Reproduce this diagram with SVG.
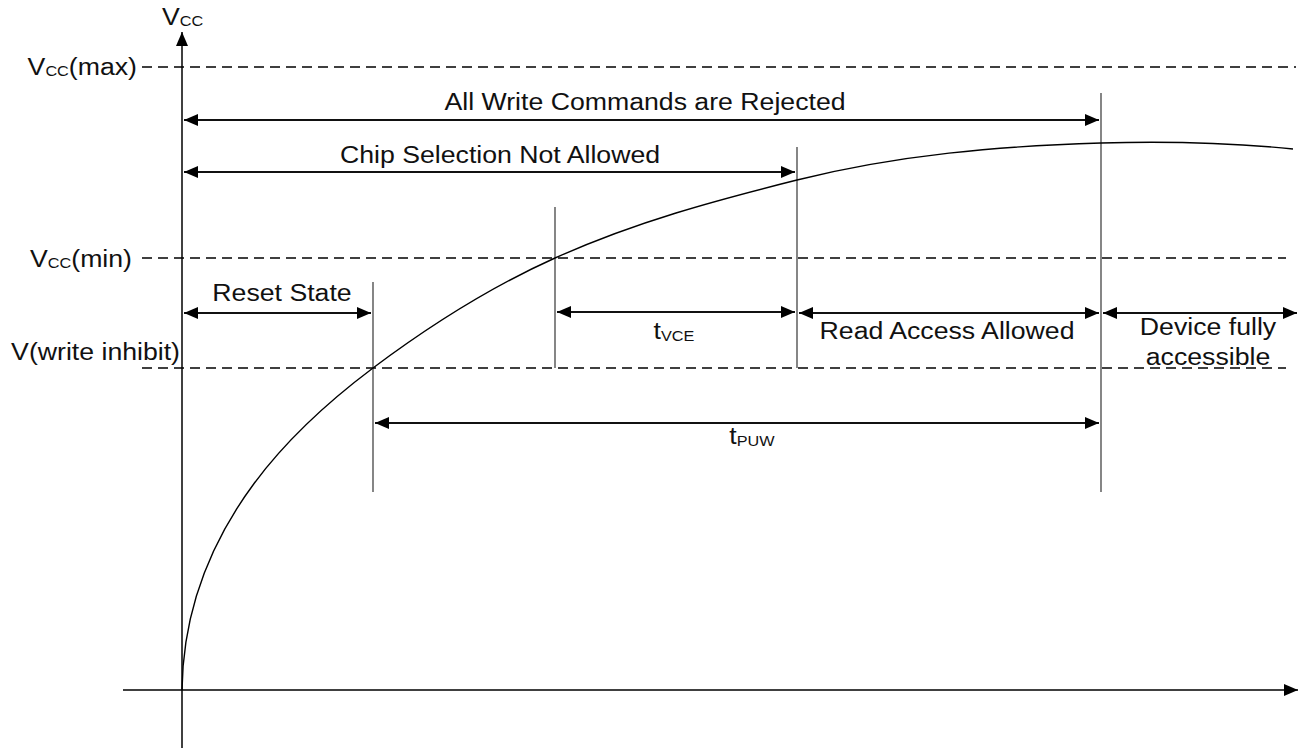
<svg xmlns="http://www.w3.org/2000/svg" width="1304" height="750" viewBox="0 0 1304 750">
<style>
text{font-family:"Liberation Sans",Arial,sans-serif;font-size:23px;fill:#111}
.sub{font-size:14px}
.axis{stroke:#000;stroke-width:1.5;fill:none}
.dash{stroke:#000;stroke-width:1.4;stroke-dasharray:10 6;fill:none}
.vl{stroke:#222;stroke-width:1.1;fill:none}
.arr{stroke:#111;stroke-width:2;fill:none;marker-start:url(#ah);marker-end:url(#ah)}
.curve{stroke:#000;stroke-width:1.4;fill:none}
</style>
<defs>
<marker id="ah" markerUnits="userSpaceOnUse" markerWidth="14" markerHeight="12" refX="14" refY="6" orient="auto-start-reverse"><path d="M0,0 L14,6 L0,12 z" fill="#000"/></marker>
<marker id="axh" markerUnits="userSpaceOnUse" markerWidth="14" markerHeight="12" refX="14" refY="6" orient="auto"><path d="M0,0 L14,6 L0,12 z" fill="#000"/></marker>
</defs>
<rect width="1304" height="750" fill="#fff"/>
<g id="axes">
<line class="axis" x1="182" y1="748" x2="182" y2="32" marker-end="url(#axh)"/>
<line class="axis" x1="123" y1="690" x2="1298" y2="690" marker-end="url(#axh)"/>
</g>
<g id="levels">
<line class="dash" x1="142" y1="67" x2="1296" y2="67"/>
<line class="dash" x1="142" y1="258" x2="1286" y2="258"/>
<line class="dash" x1="142" y1="368" x2="1286" y2="368"/>
</g>
<g id="verticals">
<line class="vl" x1="373" y1="282" x2="373" y2="492"/>
<line class="vl" x1="555" y1="207" x2="555" y2="368"/>
<line class="vl" x1="797" y1="147" x2="797" y2="368"/>
<line class="vl" x1="1101" y1="93" x2="1101" y2="492"/>
</g>
<g id="vcc-curve">
<path class="curve" d="M182,690 C184,520 309,416 373,368 C433.7,322.5 494.3,285.3 555,258 C635.7,221.7 716.3,200.2 797,180 C898.3,154.7 999.7,146 1101,143 C1165,141.1 1229,142.6 1293,149"/>
</g>
<g id="connectors">
<line class="arr" x1="184" y1="120" x2="1099" y2="120"/>
<line class="arr" x1="184" y1="172" x2="795" y2="172"/>
<line class="arr" x1="184" y1="313" x2="371" y2="313"/>
<line class="arr" x1="557" y1="312" x2="795" y2="312"/>
<line class="arr" x1="799" y1="313" x2="1099" y2="313"/>
<line class="arr" x1="1103" y1="313" x2="1297" y2="313"/>
<line class="arr" x1="375" y1="423" x2="1099" y2="423"/>
</g>
<g id="label-vcc-axis" transform="translate(162,25) scale(1.16,1)"><text x="0" y="0">V<tspan class="sub" dy="1">CC</tspan></text></g>
<g id="label-vcc-max" transform="translate(137,75) scale(1.16,1)"><text x="0" y="0" text-anchor="end">V<tspan class="sub" dy="1">CC</tspan><tspan dy="-1">(max)</tspan></text></g>
<g id="label-vcc-min" transform="translate(132,267) scale(1.16,1)"><text x="0" y="0" text-anchor="end">V<tspan class="sub" dy="1">CC</tspan><tspan dy="-1">(min)</tspan></text></g>
<g id="label-vwi" transform="translate(180,360) scale(1.16,1)"><text x="0" y="0" text-anchor="end">V(write inhibit)</text></g>
<g id="node-all-write" transform="translate(645,110) scale(1.16,1)"><text x="0" y="0" text-anchor="middle">All Write Commands are Rejected</text></g>
<g id="node-chip-select" transform="translate(500,163) scale(1.16,1)"><text x="0" y="0" text-anchor="middle">Chip Selection Not Allowed</text></g>
<g id="node-reset" transform="translate(282,301) scale(1.16,1)"><text x="0" y="0" text-anchor="middle">Reset State</text></g>
<g id="node-tvce" transform="translate(674,339) scale(1.16,1)"><text x="0" y="0" text-anchor="middle">t<tspan class="sub" dy="2">VCE</tspan></text></g>
<g id="node-read" transform="translate(947,339) scale(1.16,1)"><text x="0" y="0" text-anchor="middle">Read Access Allowed</text></g>
<g id="node-device" transform="translate(1208,335) scale(1.16,1)"><text x="0" y="0" text-anchor="middle">Device fully</text><text x="0" y="30" text-anchor="middle">accessible</text></g>
<g id="node-tpuw" transform="translate(752,444) scale(1.16,1)"><text x="0" y="0" text-anchor="middle">t<tspan class="sub" dy="2">PUW</tspan></text></g>
</svg>
